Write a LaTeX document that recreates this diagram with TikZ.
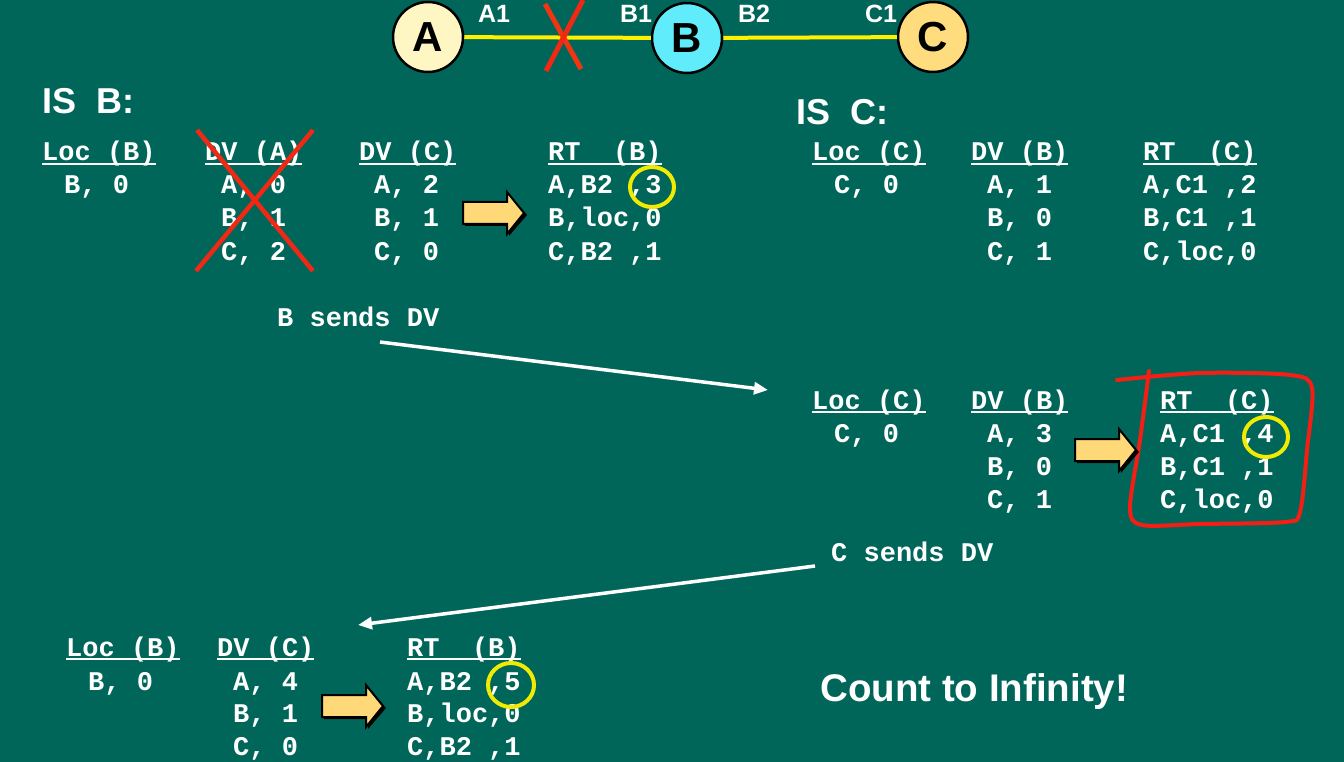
\documentclass[tikz,border=0pt]{standalone}
\usepackage{fontspec}
\setmainfont{Liberation Sans}
\setmonofont{Liberation Mono}
\usetikzlibrary{arrows.meta,shapes.geometric}

\definecolor{board}{RGB}{1,102,90}
\definecolor{nodeA}{RGB}{255,247,195}
\definecolor{nodeB}{RGB}{96,236,250}
\definecolor{nodeC}{RGB}{255,220,125}
\definecolor{linkyellow}{RGB}{255,240,0}
\definecolor{crossred}{RGB}{240,40,20}
\definecolor{ringyellow}{RGB}{240,235,0}
\definecolor{arrowfill}{RGB}{255,216,120}
\definecolor{boxred}{RGB}{245,30,20}

% underlined table heading
\newcommand{\hdr}[1]{\setbox0\hbox{#1}\rlap{\rule[-4pt]{\wd0}{1.8pt}}\box0}

\tikzset{
    router/.style={circle, draw=black, line width=2.5pt, minimum size=70pt, inner sep=0pt,
        font=\bfseries\fontsize{42}{42}\selectfont},
    port/.style={text=white, inner sep=0pt, font=\bfseries\fontsize{25}{25}\selectfont},
    link/.style={linkyellow, line width=4pt},
    cross/.style={crossred, line width=4.5pt},
    title/.style={text=white, anchor=west, inner sep=0pt, font=\bfseries\fontsize{36}{36}\selectfont},
    cell/.style={text=white, anchor=base west, inner sep=0pt, font=\ttfamily\bfseries\fontsize{27}{33}\selectfont},
    ring/.style={ellipse, draw=ringyellow, line width=4pt, minimum width=44pt, minimum height=40pt, inner sep=0pt},
    send/.style={white, line width=3.5pt, -{Triangle[length=14pt,width=12pt]}},
    blockarrow/.style={fill=arrowfill, draw=black, line width=2pt, line join=miter}
}

\begin{document}
\begin{tikzpicture}[x=1pt,y=-1pt]
        % board background
        \fill[board] (0,0) rectangle (1344,762);
        \useasboundingbox (0,0) rectangle (1344,762);
        % routers and links
        \node[router, fill=nodeA] (A) at (428,37) {A};
        \node[router, fill=nodeB] (B) at (687,38) {B};
        \node[router, fill=nodeC] (C) at (933,37) {C};
        \draw[link] (A) -- (B);
        \draw[link] (B) -- (C);
        % port names
        \node[port] (A1) at (494,14) {A1};
        \node[port] (B1) at (636,14) {B1};
        \node[port] (B2) at (754,14) {B2};
        \node[port] (C1) at (881,14) {C1};
        % broken link A-B
        \draw[cross, line width=5pt, crossred!85!orange] (545,4) -- (581,69);
        \draw[cross, line width=5pt] (583,0) -- (546,71);
        % titles
        \node[title] (isB) at (42,101) {IS\ \ B:};
        \node[title] (isC) at (796,112) {IS\ \ C:};

        % tables of B
        \node[cell] (locB) at (42,161) {\hdr{Loc (B)}};
        \node[cell] (locB-1) at (64,194) {B, 0};
        \node[cell] (dvA) at (205,161) {\hdr{DV (A)}};
        \foreach \r [count=\i] in {{A, 0},{B, 1},{C, 2}}
            \node[cell] (dvA-\i) at (221,{161+33*\i}) {\r};
        \node[cell] (dvC) at (359,161) {\hdr{DV (C)}};
        \foreach \r [count=\i] in {{A, 2},{B, 1},{C, 0}}
            \node[cell] (dvC-\i) at (374,{161+33*\i}) {\r};
        \node[cell] (rtB) at (548,161) {\hdr{RT\ \ (B)}};
        \foreach \r [count=\i] in {{A,B2 ,3},{B,loc,0},{C,B2 ,1}}
            \node[cell] (rtB-\i) at (548,{161+33*\i}) {\r};
        % lost vector of A
        \draw[cross] (197,130) -- (313,271);
        \draw[cross] (313,130) -- (196,271);

        % tables of C
        \node[cell] (locC) at (812,161) {\hdr{Loc (C)}};
        \node[cell] (locC-1) at (834,194) {C, 0};
        \node[cell] (dvB) at (971,161) {\hdr{DV (B)}};
        \foreach \r [count=\i] in {{A, 1},{B, 0},{C, 1}}
            \node[cell] (dvB-\i) at (987,{161+33*\i}) {\r};
        \node[cell] (rtC) at (1143,161) {\hdr{RT\ \ (C)}};
        \foreach \r [count=\i] in {{A,C1 ,2},{B,C1 ,1},{C,loc,0}}
            \node[cell] (rtC-\i) at (1143,{161+33*\i}) {\r};

        % B sends its vector to C
        \node[cell] (bsend) at (277,326) {B sends DV};
        \coordinate (bfrom) at (380,342);
        \coordinate (bto) at (768,390);
        \draw[send] (bfrom) -- (bto);

        % tables of C after update
        \node[cell] (locC2) at (812,409) {\hdr{Loc (C)}};
        \node[cell] (locC2-1) at (834,442) {C, 0};
        \node[cell] (dvB2) at (971,409) {\hdr{DV (B)}};
        \foreach \r [count=\i] in {{A, 3},{B, 0},{C, 1}}
            \node[cell] (dvB2-\i) at (987,{409+33*\i}) {\r};
        \node[cell] (rtC2) at (1160,409) {\hdr{RT\ \ (C)}};
        \foreach \r [count=\i] in {{A,C1 ,4},{B,C1 ,1},{C,loc,0}}
            \node[cell] (rtC2-\i) at (1160,{409+33*\i}) {\r};
        % hand drawn frame round RT (C)
        \draw[boxred, line width=4pt, line cap=round] plot[smooth, tension=0.5] coordinates
            {(1117,380) (1200,373) (1290,375) (1312,388) (1307,450) (1300,512) (1285,522)
             (1200,524) (1142,525) (1130,508) (1140,440) (1149,371)};

        % C sends its vector to B
        \node[cell] (csend) at (831,561) {C sends DV};
        \coordinate (cfrom) at (815,566);
        \coordinate (cto) at (358,625);
        \draw[send] (cfrom) -- (cto);

        % tables of B after update
        \node[cell] (locB2) at (66,656) {\hdr{Loc (B)}};
        \node[cell] (locB2-1) at (88,690) {B, 0};
        \node[cell] (dvC2) at (217,656) {\hdr{DV (C)}};
        \foreach \r [count=\i] in {{A, 4},{B, 1},{C, 0}}
            \node[cell] (dvC2-\i) at (233,{657.5+32.5*\i}) {\r};
        \node[cell] (rtB2) at (407,656) {\hdr{RT\ \ (B)}};
        \foreach \r [count=\i] in {{A,B2 ,5},{B,loc,0},{C,B2 ,1}}
            \node[cell] (rtB2-\i) at (407,{657.5+32.5*\i}) {\r};

        % block arrows: shadow first, then the arrow
        \foreach \x/\y in {463/213, 1075/450, 322/706}{
            \fill[black] ({\x+2},{\y-9}) -- ({\x+46},{\y-9}) -- ({\x+46},{\y-19}) -- ({\x+64},{\y+2})
                -- ({\x+46},{\y+23}) -- ({\x+46},{\y+13}) -- ({\x+2},{\y+13}) -- cycle;
            \draw[blockarrow] (\x,{\y-11}) -- ({\x+44},{\y-11}) -- ({\x+44},{\y-21}) -- ({\x+61},\y)
                -- ({\x+44},{\y+21}) -- ({\x+44},{\y+11}) -- (\x,{\y+11}) -- cycle;
        }

        % changed distances
        \node[ring] (ring3) at (652,187) {};
        \node[ring] (ring4) at (1266,437) {};
        \node[ring, minimum width=46pt, minimum height=44pt] (ring5) at (511,685) {};

        % closing remark
        \node[title, font=\bfseries\fontsize{38.5}{38.5}\selectfont] (count) at (820,692) {Count to Infinity!};
    \end{tikzpicture}
\end{document}
